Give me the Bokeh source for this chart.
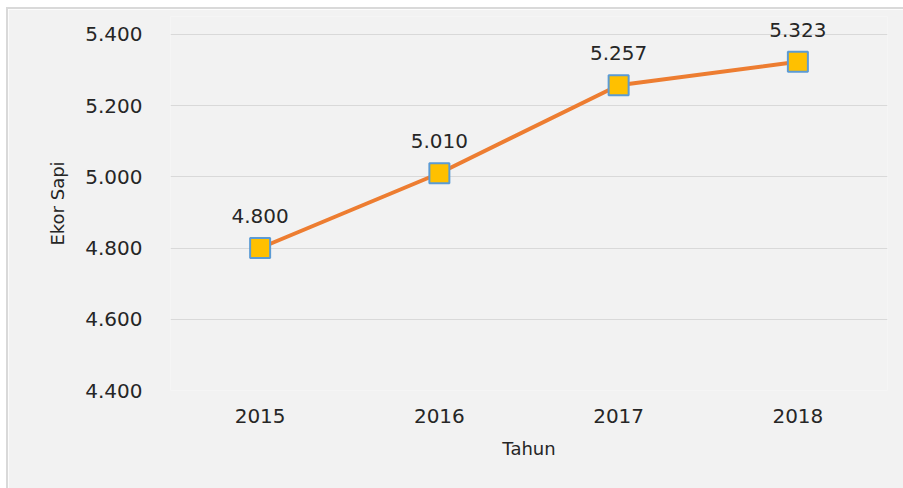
from bokeh.plotting import figure
from bokeh.models import ColumnDataSource, FixedTicker, LabelSet
from bokeh.core.properties import value
from bokeh.embed import file_html
from bokeh.resources import INLINE

years = ["2015", "2016", "2017", "2018"]
cattle = [4800, 5010, 5257, 5323]
y_ticks = [4400, 4600, 4800, 5000, 5200, 5400]
y_tick_labels = ["4.400", "4.600", "4.800", "5.000", "5.200", "5.400"]
point_labels = ["4.800", "5.010", "5.257", "5.323"]

FONT = "DejaVu Sans"
TXT = "#262626"

src = ColumnDataSource(dict(x=years, y=cattle, lab=point_labels))

p = figure(width=895, height=479, x_range=years, y_range=(4400, 5450),
           output_backend="svg", toolbar_location=None,
           background_fill_color="#f2f2f2", border_fill_color="#f2f2f2",
           min_border_left=162, min_border_right=16, min_border_top=7,
           min_border_bottom=98)
p.margin = (9, 0, 0, 8)
p.styles = {"box-shadow": "-1px -1px 0 1px #d9d9d9"}
p.outline_line_color = None

p.line("x", "y", source=src, line_color="#ed7d31", line_width=4)
p.scatter("x", "y", source=src, marker="square", size=20,
          fill_color="#ffc000", line_color="#5b9bd5", line_width=2)
labels = LabelSet(x="x", y="y", text="lab", source=src, y_offset=25,
                  text_align="center", text_baseline="alphabetic",
                  text_font=value(FONT), text_font_size=value("20px"),
                  text_color=TXT)
p.add_layout(labels)

p.xgrid.grid_line_color = None
p.ygrid.grid_line_color = "#d9d9d9"
p.ygrid.grid_line_width = 1

p.yaxis.ticker = FixedTicker(ticks=y_ticks)
p.yaxis.major_label_overrides = {t: l for t, l in zip(y_ticks, y_tick_labels)}

for ax in (p.xaxis[0], p.yaxis[0]):
    ax.axis_line_color = None
    ax.major_tick_line_color = None
    ax.minor_tick_line_color = None
    ax.major_tick_out = 0
    ax.major_tick_in = 0
    ax.major_label_text_font = FONT
    ax.major_label_text_font_size = "20px"
    ax.major_label_text_color = TXT
    ax.axis_label_text_font = FONT
    ax.axis_label_text_font_size = "18px"
    ax.axis_label_text_font_style = "normal"
    ax.axis_label_text_color = TXT

p.yaxis.major_label_standoff = 28
p.yaxis.axis_label = "Ekor Sapi"
p.yaxis.axis_label_standoff = 14
p.xaxis.major_label_standoff = 18
p.xaxis.axis_label = "Tahun"
p.xaxis.axis_label_standoff = 12

open("out.html", "w").write(file_html(p, INLINE))
